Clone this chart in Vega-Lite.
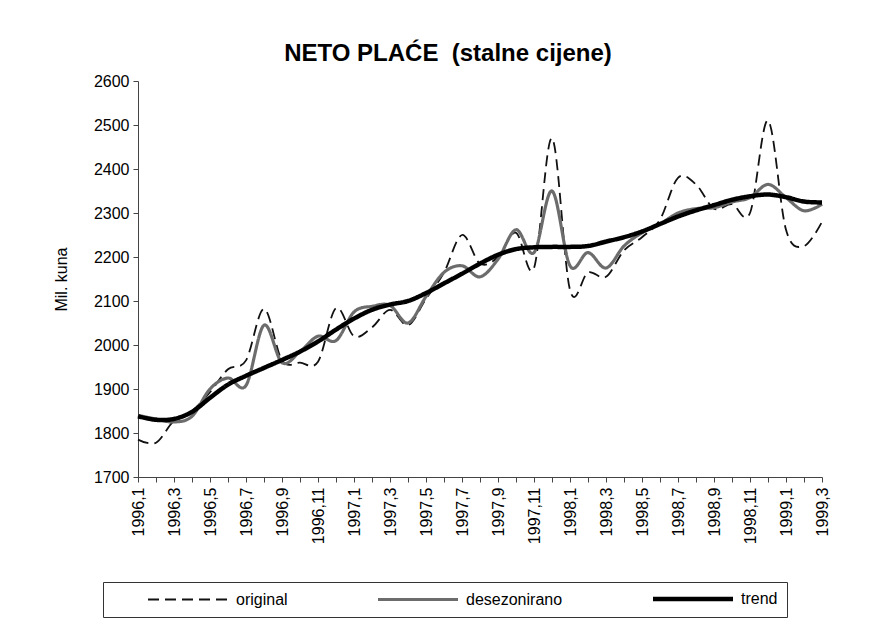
{
  "$schema": "https://vega.github.io/schema/vega-lite/v6.json",
  "width": 684,
  "height": 396,
  "autosize": {"type": "none"},
  "padding": {"left": 138, "top": 81, "right": 55, "bottom": 151},
  "background": "white",
  "config": {
    "font": "Liberation Sans",
    "view": {"stroke": null},
    "axis": {"labelFont": "Liberation Sans", "labelFontSize": 16, "labelColor": "black", "domainColor": "#444", "tickColor": "#444", "grid": false, "titleFont": "Liberation Sans", "titleFontWeight": "normal", "titleFontSize": 16, "titleColor": "black"},
    "legend": {"labelFont": "Liberation Sans", "labelFontSize": 16, "labelColor": "black"}
  },
  "title": {"text": "NETO PLAĆE\u00a0 (stalne cijene)", "fontSize": 24, "fontWeight": "bold", "font": "Liberation Sans", "color": "black", "dx": -32, "offset": 7},
  "data": {"values": [
    {"m": "1996,1", "original": 1785, "desezonirano": 1840, "trend": 1838},
    {"m": "1996,2", "original": 1778, "desezonirano": 1832, "trend": 1830},
    {"m": "1996,3", "original": 1828, "desezonirano": 1825, "trend": 1832},
    {"m": "1996,4", "original": 1850, "desezonirano": 1838, "trend": 1848},
    {"m": "1996,5", "original": 1893, "desezonirano": 1900, "trend": 1880},
    {"m": "1996,6", "original": 1945, "desezonirano": 1925, "trend": 1910},
    {"m": "1996,7", "original": 1965, "desezonirano": 1908, "trend": 1930},
    {"m": "1996,8", "original": 2082, "desezonirano": 2045, "trend": 1948},
    {"m": "1996,9", "original": 1965, "desezonirano": 1960, "trend": 1966},
    {"m": "1996,10", "original": 1960, "desezonirano": 1985, "trend": 1985},
    {"m": "1996,11", "original": 1962, "desezonirano": 2020, "trend": 2008},
    {"m": "1996,12", "original": 2084, "desezonirano": 2010, "trend": 2035},
    {"m": "1997,1", "original": 2020, "desezonirano": 2075, "trend": 2060},
    {"m": "1997,2", "original": 2040, "desezonirano": 2088, "trend": 2080},
    {"m": "1997,3", "original": 2080, "desezonirano": 2090, "trend": 2092},
    {"m": "1997,4", "original": 2045, "desezonirano": 2050, "trend": 2100},
    {"m": "1997,5", "original": 2105, "desezonirano": 2110, "trend": 2118},
    {"m": "1997,6", "original": 2165, "desezonirano": 2165, "trend": 2140},
    {"m": "1997,7", "original": 2250, "desezonirano": 2180, "trend": 2162},
    {"m": "1997,8", "original": 2185, "desezonirano": 2155, "trend": 2185},
    {"m": "1997,9", "original": 2200, "desezonirano": 2195, "trend": 2205},
    {"m": "1997,10", "original": 2255, "desezonirano": 2262, "trend": 2218},
    {"m": "1997,11", "original": 2175, "desezonirano": 2210, "trend": 2222},
    {"m": "1997,12", "original": 2470, "desezonirano": 2350, "trend": 2223},
    {"m": "1998,1", "original": 2125, "desezonirano": 2180, "trend": 2223},
    {"m": "1998,2", "original": 2165, "desezonirano": 2210, "trend": 2225},
    {"m": "1998,3", "original": 2155, "desezonirano": 2175, "trend": 2235},
    {"m": "1998,4", "original": 2215, "desezonirano": 2225, "trend": 2245},
    {"m": "1998,5", "original": 2245, "desezonirano": 2255, "trend": 2258},
    {"m": "1998,6", "original": 2285, "desezonirano": 2275, "trend": 2275},
    {"m": "1998,7", "original": 2380, "desezonirano": 2300, "trend": 2292},
    {"m": "1998,8", "original": 2365, "desezonirano": 2310, "trend": 2306},
    {"m": "1998,9", "original": 2310, "desezonirano": 2312, "trend": 2318},
    {"m": "1998,10", "original": 2320, "desezonirano": 2325, "trend": 2330},
    {"m": "1998,11", "original": 2300, "desezonirano": 2335, "trend": 2338},
    {"m": "1998,12", "original": 2510, "desezonirano": 2365, "trend": 2342},
    {"m": "1999,1", "original": 2262, "desezonirano": 2335, "trend": 2336},
    {"m": "1999,2", "original": 2225, "desezonirano": 2305, "trend": 2326},
    {"m": "1999,3", "original": 2280, "desezonirano": 2320, "trend": 2324}
  ]},
  "transform": [{"fold": ["original", "desezonirano", "trend"], "as": ["serija", "vrijednost"]}],
  "encoding": {
    "x": {"field": "m", "type": "ordinal", "sort": null, "scale": {"type": "point", "padding": 0},
      "axis": {"title": null, "labelAngle": -90, "labelOverlap": false, "labelPadding": 5, "tickSize": 5, "labelExpr": "test(/,(1|3|5|7|9|11)$/, datum.value) ? datum.value : ''"}},
    "y": {"field": "vrijednost", "type": "quantitative", "scale": {"domain": [1700, 2600], "nice": false, "zero": false},
      "axis": {"title": "Mil. kuna", "format": "d", "values": [1700, 1800, 1900, 2000, 2100, 2200, 2300, 2400, 2500, 2600], "tickSize": 5, "labelPadding": 4, "titlePadding": 24}},
    "color": {"field": "serija", "type": "nominal", "scale": {"domain": ["original", "desezonirano", "trend"], "range": ["#111111", "#6c6c6c", "#000000"]},
      "legend": {"title": null, "orient": "none", "legendX": -35, "legendY": 501, "direction": "horizontal", "columns": 3, "columnPadding": 54, "symbolType": "M-8,0H8", "symbolSize": 100, "symbolOffset": 68, "labelOffset": 40, "padding": 9, "strokeColor": "#333", "fillColor": "white"}},
    "strokeDash": {"field": "serija", "type": "nominal", "scale": {"domain": ["original", "desezonirano", "trend"], "range": [[11, 6], [1, 0], [1, 0]]}, "legend": {"title": null}},
    "strokeWidth": {"field": "serija", "type": "nominal", "scale": {"domain": ["original", "desezonirano", "trend"], "range": [1.8, 4.5, 6]}, "legend": {"title": null}}
  },
  "layer": [
    {"transform": [{"filter": "datum.serija === 'original'"}], "mark": {"type": "line", "interpolate": "cardinal"}},
    {"transform": [{"filter": "datum.serija === 'desezonirano'"}], "mark": {"type": "line", "interpolate": "cardinal"}},
    {"transform": [{"filter": "datum.serija === 'trend'"}], "mark": {"type": "line", "interpolate": "cardinal"}}
  ]
}
